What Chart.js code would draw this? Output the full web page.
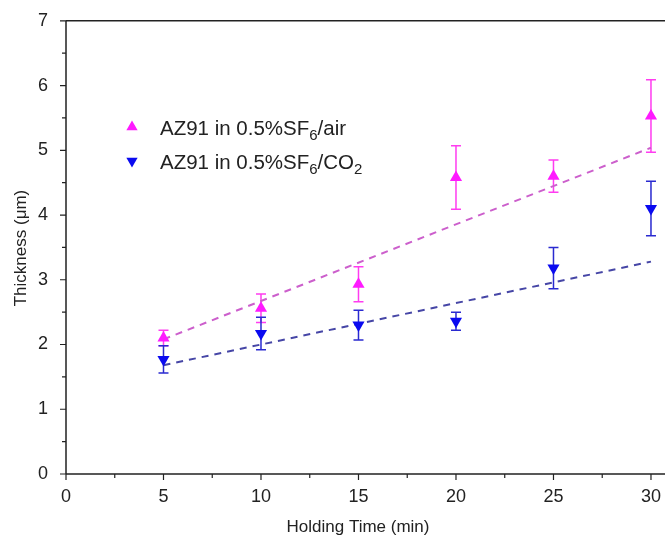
<!DOCTYPE html>
<html>
<head>
<meta charset="utf-8">
<script src="https://cdn.jsdelivr.net/npm/chart.js@4.4.1/dist/chart.umd.min.js"></script>
<style>
  html, body { margin: 0; padding: 0; background: #fff; overflow: hidden; }
  #wrap { width: 665px; height: 540px; }
  canvas { display: block; }
</style>
</head>
<body>
<div id="wrap"><canvas id="chart" width="665" height="540"></canvas></div>
<script>
// values
const holdTimes = [5, 10, 15, 20, 25, 30];
const airThickness = [2.10, 2.56, 2.93, 4.58, 4.60, 5.53];
const airError = [0.12, 0.22, 0.27, 0.49, 0.25, 0.56];
const co2Thickness = [1.77, 2.17, 2.30, 2.36, 3.18, 4.10];
const co2Error = [0.21, 0.25, 0.23, 0.14, 0.32, 0.42];
const fitX = [5, 30];
const airFit = [2.08, 5.04];
const co2Fit = [1.68, 3.28];
const xTicks = [0, 5, 10, 15, 20, 25, 30];
const yTicks = [0, 1, 2, 3, 4, 5, 6, 7];

const PINK = '#ff1aff';
const PINK_BAR = '#ff3cf0';
const PINK_LINE = '#cc5fcc';
const BLUE = '#0a0af0';
const BLUE_BAR = '#2a2ad0';
const BLUE_LINE = '#4646a6';
const FONT = 'Liberation Sans, Arial, sans-serif';

const toPoints = (xs, ys) => xs.map((x, i) => ({ x: x, y: ys[i] }));

// error bars, frame, minor ticks, x labels, axis titles and legend
const extrasPlugin = {
  id: 'extras',
  beforeDatasetsDraw(chart) {
    const { ctx, scales: { x, y } } = chart;
    const bars = [[airThickness, airError, PINK_BAR], [co2Thickness, co2Error, BLUE_BAR]];
    ctx.save();
    ctx.lineWidth = 1.5;
    bars.forEach(([vals, errs, color]) => {
      ctx.strokeStyle = color;
      holdTimes.forEach((t, i) => {
        const px = x.getPixelForValue(t);
        const top = y.getPixelForValue(vals[i] + errs[i]);
        const bot = y.getPixelForValue(vals[i] - errs[i]);
        ctx.beginPath();
        ctx.moveTo(px, top); ctx.lineTo(px, bot);
        ctx.moveTo(px - 5, top); ctx.lineTo(px + 5, top);
        ctx.moveTo(px - 5, bot); ctx.lineTo(px + 5, bot);
        ctx.stroke();
      });
    });
    ctx.restore();
  },
  afterDraw(chart) {
    const { ctx, chartArea: a, scales: { x, y } } = chart;
    ctx.save();
    ctx.strokeStyle = '#222';
    ctx.lineWidth = 1.5;
    // frame
    ctx.beginPath();
    ctx.moveTo(a.left, a.top); ctx.lineTo(chart.width, a.top);
    ctx.moveTo(a.left, a.top); ctx.lineTo(a.left, a.bottom);
    ctx.moveTo(a.left, a.bottom); ctx.lineTo(chart.width, a.bottom);
    ctx.stroke();
    // ticks
    ctx.lineWidth = 1.2;
    ctx.beginPath();
    for (let v = 0; v <= 7; v += 0.5) {
      const py = y.getPixelForValue(v);
      const len = Number.isInteger(v) ? 6 : 4;
      ctx.moveTo(a.left - len, py); ctx.lineTo(a.left, py);
    }
    for (let v = 0; v <= 30; v += 2.5) {
      const px = x.getPixelForValue(v);
      const len = v % 5 === 0 ? 6 : 4;
      ctx.moveTo(px, a.bottom); ctx.lineTo(px, a.bottom + len);
    }
    ctx.stroke();

    // x tick labels
    ctx.fillStyle = '#222';
    ctx.font = '18px ' + FONT;
    ctx.textAlign = 'center';
    ctx.textBaseline = 'top';
    xTicks.forEach(v => ctx.fillText(String(v), x.getPixelForValue(v), a.bottom + 14));

    // axis titles
    ctx.font = '17px ' + FONT;
    ctx.textBaseline = 'middle';
    ctx.fillText('Holding Time (min)', 358, 527);
    ctx.translate(21, 248);
    ctx.rotate(-Math.PI / 2);
    ctx.fillText('Thickness (\u03bcm)', 0, 0);
    ctx.restore();

    // legend
    ctx.save();
    const rows = [
      { color: PINK, rot: 0, y: 127, sub: '6', tail: '/air', sub2: '' },
      { color: BLUE, rot: 180, y: 161, sub: '6', tail: '/CO', sub2: '2' }
    ];
    rows.forEach(r => {
      ctx.fillStyle = r.color;
      Chart.helpers.drawPoint(ctx, { pointStyle: 'triangle', radius: 6.5, rotation: r.rot }, 132, r.y);
      ctx.fillStyle = '#222';
      ctx.textAlign = 'left';
      ctx.textBaseline = 'alphabetic';
      const base = r.y + 8;
      let cx = 160;
      ctx.font = '20.5px ' + FONT;
      const head = 'AZ91 in 0.5%SF';
      ctx.fillText(head, cx, base);
      cx += ctx.measureText(head).width;
      ctx.font = '15px ' + FONT;
      ctx.fillText(r.sub, cx, base + 5);
      cx += ctx.measureText(r.sub).width;
      ctx.font = '20.5px ' + FONT;
      ctx.fillText(r.tail, cx, base);
      cx += ctx.measureText(r.tail).width;
      if (r.sub2) {
        ctx.font = '15px ' + FONT;
        ctx.fillText(r.sub2, cx, base + 5);
      }
    });
    ctx.restore();
  }
};

new Chart(document.getElementById('chart'), {
  type: 'scatter',
  data: {
    datasets: [
      {
        label: 'AZ91 in 0.5%SF6/air',
        data: toPoints(holdTimes, airThickness),
        pointStyle: 'triangle',
        pointRadius: 7,
        backgroundColor: PINK,
        borderColor: PINK,
        borderWidth: 0,
        order: 1
      },
      {
        label: 'AZ91 in 0.5%SF6/CO2',
        data: toPoints(holdTimes, co2Thickness),
        pointStyle: 'triangle',
        rotation: 180,
        pointRadius: 7,
        backgroundColor: BLUE,
        borderColor: BLUE,
        borderWidth: 0,
        order: 1
      },
      {
        label: 'air fit',
        data: toPoints(fitX, airFit),
        showLine: true,
        pointRadius: 0,
        borderColor: PINK_LINE,
        borderWidth: 2,
        borderDash: [7, 6],
        order: 2
      },
      {
        label: 'CO2 fit',
        data: toPoints(fitX, co2Fit),
        showLine: true,
        pointRadius: 0,
        borderColor: BLUE_LINE,
        borderWidth: 2,
        borderDash: [7, 6],
        order: 2
      }
    ]
  },
  options: {
    responsive: false,
    animation: false,
    layout: { padding: { top: 20, right: 0, left: 0, bottom: 0 } },
    plugins: { legend: { display: false }, tooltip: { enabled: false } },
    scales: {
      x: {
        type: 'linear',
        min: 0,
        max: 30.36,
        afterFit: s => { s.height = 66; },
        afterBuildTicks: s => { s.ticks = xTicks.map(v => ({ value: v })); },
        grid: { display: false },
        border: { display: false },
        ticks: { display: false }
      },
      y: {
        type: 'linear',
        min: 0,
        max: 7,
        afterFit: s => { s.width = 66; },
        afterBuildTicks: s => { s.ticks = yTicks.map(v => ({ value: v })); },
        grid: { display: false },
        border: { display: false },
        ticks: { color: '#222', padding: 10, font: { family: FONT, size: 18 } }
      }
    }
  },
  plugins: [extrasPlugin]
});
</script>
</body>
</html>
